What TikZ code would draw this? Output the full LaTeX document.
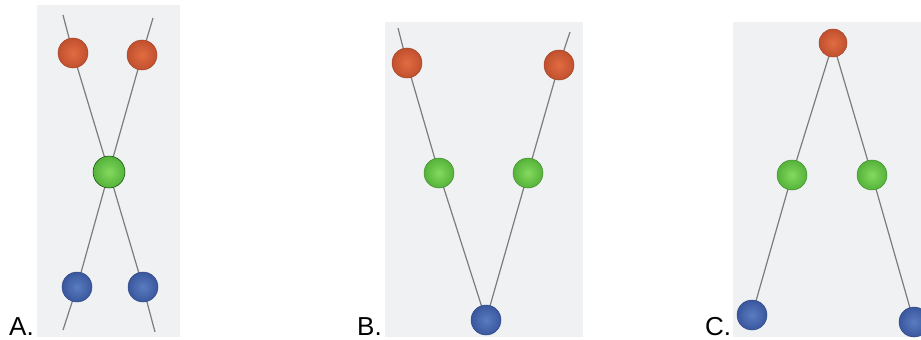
\documentclass[tikz,border=0pt]{standalone}
\usepackage{fontspec}
\setmainfont{Liberation Sans}
\usetikzlibrary{backgrounds}
\definecolor{panelbg}{HTML}{F0F1F3}
\definecolor{wire}{HTML}{7C7C7C}
\definecolor{redin}{HTML}{E26C42}
\definecolor{redout}{HTML}{C0502E}
\definecolor{greenin}{HTML}{84DA5E}
\definecolor{greenout}{HTML}{55B23A}
\definecolor{bluein}{HTML}{5A7CC0}
\definecolor{blueout}{HTML}{3A579E}
\tikzset{
  panel/.style={fill=panelbg, draw=none},
  wireline/.style={draw=wire, line width=1.2pt},
  ball/.style={circle, inner sep=0pt, minimum size=30pt, line width=0.5pt},
  redball/.style={ball, inner color=redin, outer color=redout, draw=redout!85!black},
  greenball/.style={ball, inner color=greenin, outer color=greenout, draw=greenout!80!black},
  blueball/.style={ball, inner color=bluein, outer color=blueout, draw=blueout!85!black},
  lbl/.style={anchor=base west, inner sep=0pt, font=\fontsize{26}{26}\selectfont}
}
\begin{document}
\begin{tikzpicture}[x=1pt, y=-1pt]
\useasboundingbox (0,0) rectangle (921,340);
% ---------- Panel A ----------
\node[redball] (ar1) at (73,53) {};
\node[redball] (ar2) at (142,55) {};
\node[greenball, minimum size=32pt, draw=green!30!black] (ag) at (109,172) {};
\node[blueball] (ab1) at (77,287) {};
\node[blueball] (ab2) at (143,287) {};
\coordinate (at1) at (63,15);
\coordinate (ae1) at (155,332);
\coordinate (at2) at (153,18);
\coordinate (ae2) at (63,330);
% ---------- Panel B ----------
\node[redball] (br1) at (407,63) {};
\node[redball] (br2) at (559,65) {};
\node[greenball] (bg1) at (439,173) {};
\node[greenball] (bg2) at (528,173) {};
\node[blueball] (bb) at (486,320) {};
\coordinate (bt1) at (398,28);
\coordinate (bt2) at (570,32);
% ---------- Panel C ----------
\node[redball, minimum size=28pt] (cr) at (833,43) {};
\node[greenball] (cg1) at (792,175) {};
\node[greenball] (cg2) at (872,175) {};
\node[blueball] (cb1) at (752,315) {};
\node[blueball] (cb2) at (914,322) {};
% ---------- labels ----------
\node[lbl] (la) at (9,335) {A.};
\node[lbl] (lb) at (357,335) {B.};
\node[lbl] (lc) at (705,335) {C.};
\begin{scope}[on background layer]
  \fill[panel] (37,5) rectangle (180,337);
  \fill[panel] (385,22) rectangle (583,337);
  \fill[panel] (733,22) rectangle (921,337);
  \draw[wireline] (at1) -- (ar1.center) -- (ag.center) -- (ab2.center) -- (ae1);
  \draw[wireline] (at2) -- (ar2.center) -- (ag.center) -- (ab1.center) -- (ae2);
  \draw[wireline] (bt1) -- (br1.center) -- (bg1.center) -- (bb.center);
  \draw[wireline] (bt2) -- (br2.center) -- (bg2.center) -- (bb.center);
  \draw[wireline] (cr.center) -- (cg1.center) -- (cb1.center);
  \draw[wireline] (cr.center) -- (cg2.center) -- (cb2.center);
\end{scope}
\end{tikzpicture}
\end{document}
